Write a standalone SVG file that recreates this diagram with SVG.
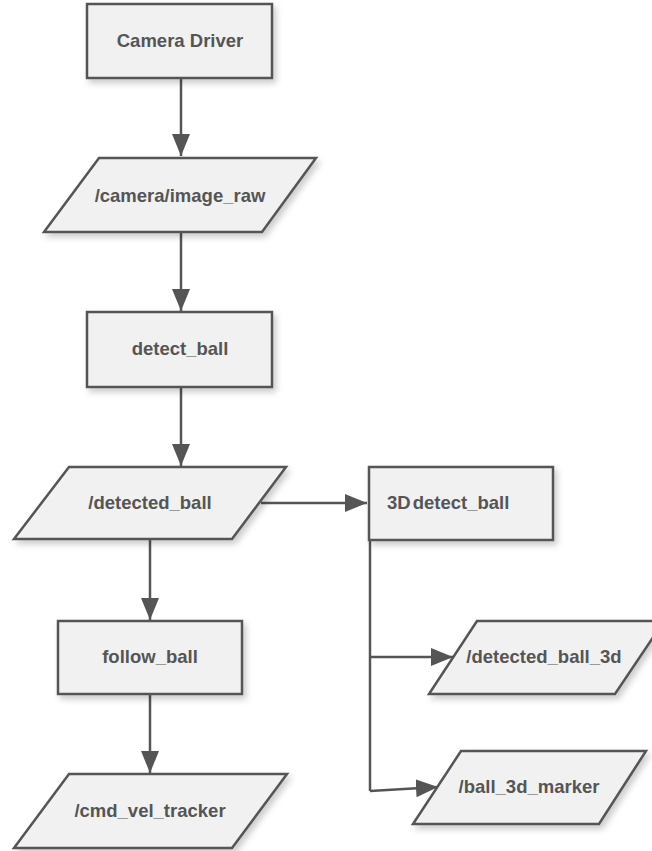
<svg xmlns="http://www.w3.org/2000/svg" width="652" height="851" viewBox="0 0 652 851">
<style>
.n{fill:#f1f1f1;stroke:#555;stroke-width:2.5;filter:url(#sh)}
.t{font-family:"Liberation Sans",Arial,sans-serif;font-weight:bold;font-size:18.5px;fill:#555;text-anchor:middle}
.c{fill:none;stroke:#555;stroke-width:2.5}
</style>
<defs>
<filter id="sh" x="-20%" y="-20%" width="140%" height="150%">
<feDropShadow dx="3" dy="4" stdDeviation="3" flood-color="#000" flood-opacity="0.2"/>
</filter>
<marker id="ah" markerUnits="userSpaceOnUse" markerWidth="24" markerHeight="20" refX="22" refY="9" orient="auto">
<path d="M0,0 L22,9 L0,18 Z" fill="#555"/>
</marker>
</defs>
<rect width="652" height="851" fill="#fff"/>
<g id="connectors">
<path class="c" d="M181,78 V156" marker-end="url(#ah)"/>
<path class="c" d="M181,232 V311" marker-end="url(#ah)"/>
<path class="c" d="M181,387 V466" marker-end="url(#ah)"/>
<path class="c" d="M261,503 H367" marker-end="url(#ah)"/>
<path class="c" d="M150,539 V620" marker-end="url(#ah)"/>
<path class="c" d="M150,694 V773" marker-end="url(#ah)"/>
<path class="c" d="M370,540 V791"/>
<path class="c" d="M370,657 H453" marker-end="url(#ah)"/>
<path class="c" d="M370,791 L438,787" marker-end="url(#ah)"/>
</g>
<g id="camera_driver">
<rect class="n" x="87" y="4" width="185" height="74"/>
<text class="t" x="180" y="47">Camera Driver</text>
</g>
<g id="image_raw">
<polygon class="n" points="99,158 316,158 262,232 44,232"/>
<text class="t" x="180" y="202">/camera/image_raw</text>
</g>
<g id="detect_ball">
<rect class="n" x="87" y="312" width="185" height="75"/>
<text class="t" x="180" y="355">detect_ball</text>
</g>
<g id="detected_ball">
<polygon class="n" points="69,467 286,467 232,539 14,539"/>
<text class="t" x="150" y="509">/detected_ball</text>
</g>
<g id="follow_ball">
<rect class="n" x="58" y="621" width="184" height="73"/>
<text class="t" x="150" y="663">follow_ball</text>
</g>
<g id="cmd_vel_tracker">
<polygon class="n" points="69,774 287,774 232,848 14,848"/>
<text class="t" x="150" y="817">/cmd_vel_tracker</text>
</g>
<g id="detect_ball_3d">
<rect class="n" x="369" y="467" width="184" height="73"/>
<text class="t" x="387" y="509" style="text-anchor:start">3D<tspan dx="2">detect_ball</tspan></text>
</g>
<g id="detected_ball_3d">
<polygon class="n" points="477,621 664,621 615,694 429,694"/>
<text class="t" x="544" y="663">/detected_ball_3d</text>
</g>
<g id="ball_3d_marker">
<polygon class="n" points="461,751 646,751 599,824 413,824"/>
<text class="t" x="529" y="793">/ball_3d_marker</text>
</g>
</svg>
